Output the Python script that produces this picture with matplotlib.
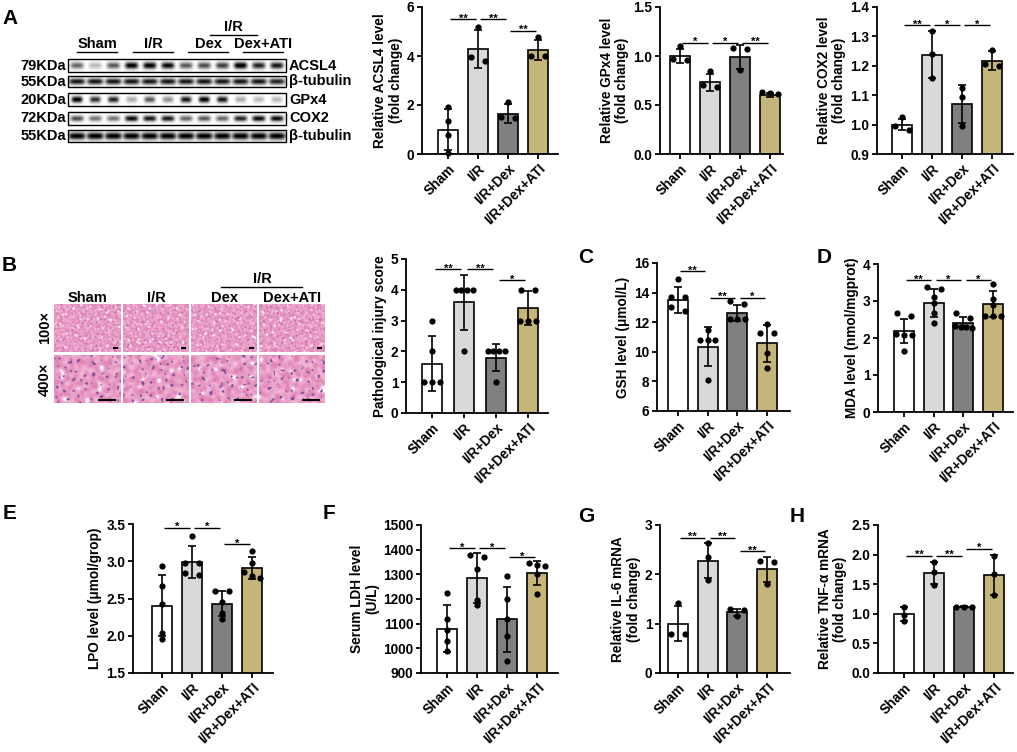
import numpy as np
import matplotlib
matplotlib.use("Agg")
import matplotlib.pyplot as plt
from matplotlib.patches import Rectangle
from matplotlib.ticker import FormatStrFormatter

plt.rcParams["font.family"] = ["Liberation Sans", "DejaVu Sans"]
plt.rcParams["font.weight"] = "bold"
plt.rcParams["axes.labelweight"] = "bold"

W, H = 1017, 752

groups = ["Sham", "I/R", "I/R+Dex", "I/R+Dex+ATI"]
bar_colors = ["#ffffff", "#d9d9d9", "#808080", "#c6b57b"]

# --- panel A: western blot quantification --------------------------------
acsl4_pts = [[1.91, 1.33, 0.79, 0.04], [5.19, 3.97, 3.79], [2.14, 1.50, 1.46], [4.78, 4.02, 4.00]]
acsl4_mean = [1.00, 4.28, 1.65, 4.25]
acsl4_sd = [0.82, 0.78, 0.39, 0.42]
acsl4_sig = [(0, 1, 5.49, "**"), (1, 2, 5.49, "**"), (2, 3, 5.03, "**")]

gpx4_pts = [[1.10, 0.97, 0.96], [0.85, 0.70, 0.68], [1.08, 1.07, 0.86], [0.63, 0.62, 0.61]]
gpx4_mean = [1.00, 0.73, 0.99, 0.60]
gpx4_sd = [0.07, 0.09, 0.12, 0.02]
gpx4_sig = [(0, 1, 1.135, "*"), (1, 2, 1.135, "*"), (2, 3, 1.135, "**")]

cox2_pts = [[1.025, 0.995, 0.98], [1.32, 1.24, 1.16], [1.123, 1.095, 0.996], [1.253, 1.205, 1.20]]
cox2_mean = [1.00, 1.238, 1.07, 1.217]
cox2_sd = [0.02, 0.08, 0.066, 0.032]
cox2_sig = [(0, 1, 1.338, "**"), (1, 2, 1.338, "*"), (2, 3, 1.338, "*")]

# --- panels B, C, D -------------------------------------------------------
path_pts = [[3, 2, 1, 1, 1], [4, 4, 4, 4, 2], [2, 2, 2, 2, 1], [4, 4, 3, 3, 3]]
path_mean = [1.6, 3.6, 1.8, 3.4]
path_sd = [0.89, 0.89, 0.45, 0.55]
path_sig = [(0, 1, 4.68, "**"), (1, 2, 4.68, "**"), (2, 3, 4.31, "*")]

gsh_pts = [[14.95, 13.7, 13.7, 13.0, 12.75], [11.5, 10.8, 10.8, 10.8, 8.1],
           [13.4, 13.25, 12.2, 12.2, 12.2], [11.88, 11.3, 11.25, 9.94, 8.88]]
gsh_mean = [13.5, 10.35, 12.6, 10.57]
gsh_sd = [0.9, 1.3, 0.55, 1.25]
gsh_sig = [(0, 1, 15.45, "**"), (1, 2, 13.65, "**"), (2, 3, 13.65, "*")]

mda_pts = [[2.67, 2.59, 2.10, 2.08, 2.08, 1.66], [3.38, 3.32, 3.12, 2.95, 2.68, 2.40],
           [2.67, 2.55, 2.32, 2.30, 2.30, 2.28], [3.45, 3.05, 2.90, 2.60, 2.60, 2.60]]
mda_mean = [2.19, 2.95, 2.40, 2.92]
mda_sd = [0.33, 0.37, 0.17, 0.36]
mda_sig = [(0, 1, 3.56, "**"), (1, 2, 3.56, "*"), (2, 3, 3.56, "*")]

# --- panels E, F, G, H ----------------------------------------------------
lpo_pts = [[2.93, 2.67, 2.43, 2.04, 1.96], [3.34, 2.98, 2.97, 2.84, 2.82],
           [2.60, 2.60, 2.45, 2.30, 2.22], [3.14, 2.97, 2.86, 2.80, 2.78]]
lpo_mean = [2.40, 2.99, 2.43, 2.91]
lpo_sd = [0.41, 0.21, 0.17, 0.15]
lpo_sig = [(0, 1, 3.45, "*"), (1, 2, 3.45, "*"), (2, 3, 3.23, "*")]

ldh_pts = [[1226, 1120, 1075, 1030, 990], [1378, 1372, 1320, 1195, 1175],
           [1292, 1200, 1120, 1050, 950], [1345, 1338, 1332, 1300, 1222]]
ldh_mean = [1080, 1285, 1117, 1305]
ldh_sd = [95, 100, 133, 48]
ldh_sig = [(0, 1, 1405, "*"), (1, 2, 1405, "*"), (2, 3, 1369, "*")]

il6_pts = [[1.42, 0.80, 0.80], [2.64, 2.36, 1.89], [1.30, 1.27, 1.15], [2.27, 2.26, 1.81]]
il6_mean = [1.00, 2.28, 1.23, 2.10]
il6_sd = [0.36, 0.36, 0.07, 0.26]
il6_sig = [(0, 1, 2.74, "**"), (1, 2, 2.74, "**"), (2, 3, 2.47, "**")]

tnf_pts = [[1.12, 0.98, 0.88], [1.87, 1.70, 1.49], [1.12, 1.12, 1.12], [1.98, 1.67, 1.31]]
tnf_mean = [0.99, 1.69, 1.12, 1.65]
tnf_sd = [0.12, 0.19, 0.005, 0.34]
tnf_sig = [(0, 1, 1.98, "**"), (1, 2, 1.98, "**"), (2, 3, 2.10, "*")]

# --- blot band darkness per lane (3 lanes per group) -----------------------
acsl4_bands = [0.55, 0.25, 0.60, 0.95, 0.95, 0.90, 0.60, 0.65, 0.70, 1.00, 0.80, 0.85]
tubulin1_bands = [0.85, 0.85, 0.85, 0.85, 0.85, 0.85, 0.85, 0.85, 0.85, 0.85, 0.85, 0.80]
gpx4_bands = [0.95, 0.75, 0.80, 0.30, 0.60, 0.40, 0.85, 0.95, 0.85, 0.30, 0.25, 0.25]
cox2_bands = [0.65, 0.50, 0.50, 0.90, 0.85, 0.85, 0.55, 0.60, 0.55, 0.80, 0.90, 0.90]
tubulin2_bands = [0.95, 0.95, 0.95, 0.95, 0.95, 0.95, 0.95, 0.95, 0.95, 0.95, 0.95, 0.95]

FS = 9.8      # tick / axis label size
FS_IMG = 10.5  # labels around blot and histology


def px_rect(x0, x1, ytop, ybot):
    return [x0 / W, 1 - ybot / H, (x1 - x0) / W, (ybot - ytop) / H]


def spread(vals, ppu, sp, thresh=4.5):
    """Side-by-side offsets for points that would overlap (GraphPad style)."""
    vals = np.asarray(vals, float)
    order = np.argsort(-vals, kind="stable")
    clusters = [[order[0]]]
    for a, b in zip(order[:-1], order[1:]):
        if (vals[a] - vals[b]) * ppu < thresh:
            clusters[-1].append(b)
        else:
            clusters.append([b])
    offs = np.zeros(len(vals))
    for c in clusters:
        n = len(c)
        if n < 2:
            continue
        step = (14 + (n - 2) * 1.5) / (n - 1) / sp
        for k, idx in enumerate(c):
            offs[idx] = (k - (n - 1) / 2) * step
    return offs


def bar_panel(fig, box, c0, c3, ylim, yticks, fmt, ylabel, pts, mean, sd, sig):
    x0, x1, ytop, ybot = box
    ax = fig.add_axes(px_rect(*box))
    sp = (c3 - c0) / 3
    xs = np.arange(4)
    ax.set_xlim((x0 - c0) / sp, 3 + (x1 - c3) / sp)
    ax.set_ylim(*ylim)
    ppu = (ybot - ytop) / (ylim[1] - ylim[0])

    ax.bar(xs, mean, width=20 / sp, color=bar_colors, edgecolor="black",
           linewidth=1.2, zorder=2)
    ax.errorbar(xs, mean, yerr=sd, fmt="none", ecolor="black", elinewidth=1.2,
                capsize=3.2, capthick=1.2, zorder=3)
    for i, vals in enumerate(pts):
        ax.plot(i + spread(vals, ppu, sp), vals, "o", color="black", ms=4.5,
                mew=0, zorder=4, clip_on=False)
    for i, j, y, star in sig:
        ax.plot([i + 0.08, j - 0.08], [y, y], color="black", lw=1.0,
                clip_on=False, solid_capstyle="butt")
        ax.annotate(star, xy=((i + j) / 2, y), xytext=(0, -1.8),
                    textcoords="offset points", ha="center", va="baseline",
                    fontsize=8, annotation_clip=False)

    for side in ("top", "right"):
        ax.spines[side].set_visible(False)
    for side in ("left", "bottom"):
        ax.spines[side].set_linewidth(1.3)
    ax.set_xticks(xs)
    ax.set_xticklabels(groups, rotation=45, ha="right", rotation_mode="anchor")
    ax.set_yticks(yticks)
    ax.yaxis.set_major_formatter(FormatStrFormatter(fmt))
    ax.tick_params(axis="both", length=3.5, width=1.3, labelsize=FS, pad=2)
    ax.set_ylabel(ylabel, fontsize=FS, labelpad=3, linespacing=1.1)
    ax.patch.set_visible(False)
    return ax


def blot_strip(levels, width_frac, height_frac):
    nx, ny = 12 * 24, 40
    u = (np.arange(nx) + 0.5) / nx * 12
    lane = np.floor(u).astype(int)
    frac = u % 1
    v = (np.arange(ny) + 0.5) / ny
    prof_x = np.exp(-((frac - 0.5) / width_frac) ** 4)
    prof_y = np.exp(-((v - 0.5) / height_frac) ** 2)
    return np.clip(np.outer(prof_y, prof_x * np.asarray(levels)[lane]) * 1.1, 0, 1)


def tissue(h, w, scale, phase, hi_mag):
    """Deterministic sine-sum texture imitating an H&E stained section."""
    yy, xx = np.mgrid[0:h, 0:w].astype(float)
    f = np.zeros((h, w))
    g = np.zeros((h, w))
    for k in range(1, 21):
        ang = k * 2.39996 + phase
        fr = scale * (0.5 + 0.075 * k)
        f += np.sin(fr * (xx * np.cos(ang) + yy * np.sin(ang)) + k * 1.37 + phase * 3)
        ang2 = k * 1.913 + phase * 2
        fr2 = scale * (1.1 + 0.11 * k)
        g += np.sin(fr2 * (xx * np.cos(ang2) + yy * np.sin(ang2)) + k * 0.71 + phase)
    pink = np.array([0.88, 0.52, 0.71])
    light = np.array([0.95, 0.72, 0.85])
    purple = np.array([0.47, 0.30, 0.60])
    lo, hi = np.quantile(f, [0.05, 0.95])
    t = np.clip((f - lo) / (hi - lo), 0, 1)[..., None]
    img = pink * (1 - t) + light * t
    white = f > np.quantile(f, 0.975 if hi_mag else 0.965)
    img[white] = [0.99, 0.97, 0.99]
    nuc = g < np.quantile(g, 0.06 if hi_mag else 0.03)
    img[nuc] = purple
    return img


fig = plt.figure(figsize=(W / 100, H / 100), dpi=100)

deco = fig.add_axes([0, 0, 1, 1])
deco.set_xlim(0, W)
deco.set_ylim(H, 0)
deco.axis("off")

# panel letters
for letter, lx, ly in [("A", 2, 9), ("B", 2, 256), ("C", 578, 248), ("D", 817, 248),
                       ("E", 3, 504), ("F", 323, 504), ("G", 578, 507), ("H", 790, 507)]:
    deco.text(lx, ly, letter, fontsize=15, fontweight="bold", ha="left", va="top")

# ---- western blot ----
blot_x0, blot_x1 = 68, 286
blot_rows = [("79KDa", "ACSL4", 59, 72, acsl4_bands, 0.36, 0.25),
             ("55KDa", "β-tubulin", 76, 87, tubulin1_bands, 0.45, 0.28),
             ("20KDa", "GPx4", 93, 106, gpx4_bands, 0.30, 0.24),
             ("72KDa", "COX2", 112, 125, cox2_bands, 0.36, 0.22),
             ("55KDa", "β-tubulin", 130, 142, tubulin2_bands, 0.48, 0.30)]
for kda, prot, y0, y1, bands, wf, hf in blot_rows:
    deco.imshow(blot_strip(bands, wf, hf), cmap="gray_r", vmin=0, vmax=1,
                extent=(blot_x0, blot_x1, y1, y0), aspect="auto",
                interpolation="bilinear", zorder=1)
    deco.add_patch(Rectangle((blot_x0, y0), blot_x1 - blot_x0, y1 - y0,
                             fill=False, edgecolor="black", lw=1.0, zorder=2))
    deco.text(66, (y0 + y1) / 2, kda, fontsize=FS_IMG, ha="right", va="center")
    deco.text(289, (y0 + y1) / 2, prot, fontsize=FS_IMG, ha="left", va="center")

for name, xa, xb in [("Sham", 77, 117), ("I/R", 133, 173), ("Dex", 188, 228),
                     ("Dex+ATI", 243, 283)]:
    deco.text((xa + xb) / 2, 48, name, fontsize=FS_IMG, ha="center", va="baseline")
    deco.plot([xa, xb], [52, 52], color="black", lw=1.0)
deco.text(233, 31, "I/R", fontsize=FS_IMG, ha="center", va="baseline")
deco.plot([210, 257], [34.5, 34.5], color="black", lw=1.0)

# ---- histology ----
tile_cols = [(54, 121), (123, 189), (191, 257), (259, 325)]
tile_rows = [(304, 352), (355, 403)]
for r, (ty0, ty1) in enumerate(tile_rows):
    for c, (tx0, tx1) in enumerate(tile_cols):
        hi = r == 1
        img = tissue(3 * (ty1 - ty0), 3 * (tx1 - tx0), 0.16 if hi else 0.34,
                     0.7 * c + 2.1 * r, hi)
        deco.imshow(img, extent=(tx0, tx1, ty1, ty0), aspect="auto",
                    interpolation="bilinear", zorder=1)
        if hi:
            deco.plot([tx1 - 22, tx1 - 6], [ty1 - 3, ty1 - 3], color="black", lw=1.5)
        else:
            deco.plot([tx1 - 7, tx1 - 4], [ty1 - 4, ty1 - 4], color="black", lw=1.5)
for name, (tx0, tx1) in zip(["Sham", "I/R", "Dex", "Dex+ATI"], tile_cols):
    deco.text((tx0 + tx1) / 2, 302, name, fontsize=FS_IMG, ha="center", va="baseline")
deco.text(262, 283, "I/R", fontsize=FS_IMG, ha="center", va="baseline")
deco.plot([221, 302], [287, 287], color="black", lw=1.0)
deco.text(45, 328, "100×", fontsize=FS_IMG, rotation=90, ha="center", va="center")
deco.text(45, 379, "400×", fontsize=FS_IMG, rotation=90, ha="center", va="center")
deco.set_xlim(0, W)
deco.set_ylim(H, 0)

# ---- bar charts ----
bar_panel(fig, (422, 558, 7, 154), 448, 538, (0, 6), [0, 2, 4, 6], "%d",
          "Relative ACSL4 level\n(fold change)", acsl4_pts, acsl4_mean, acsl4_sd, acsl4_sig)
bar_panel(fig, (660, 783, 7, 154), 680, 770, (0, 1.5), [0, 0.5, 1.0, 1.5], "%.1f",
          "Relative GPx4 level\n(fold change)", gpx4_pts, gpx4_mean, gpx4_sd, gpx4_sig)
bar_panel(fig, (877, 1013, 7, 154), 902, 992, (0.9, 1.4), [0.9, 1.0, 1.1, 1.2, 1.3, 1.4], "%.1f",
          "Relative COX2 level\n(fold change)", cox2_pts, cox2_mean, cox2_sd, cox2_sig)

bar_panel(fig, (406, 548, 259, 413), 432, 528, (0, 5), [0, 1, 2, 3, 4, 5], "%d",
          "Pathological injury score", path_pts, path_mean, path_sd, path_sig)
bar_panel(fig, (657, 790, 263, 411), 678, 767, (6, 16), [6, 8, 10, 12, 14, 16], "%d",
          "GSH level (μmol/L)", gsh_pts, gsh_mean, gsh_sd, gsh_sig)
bar_panel(fig, (878, 1013, 264, 412), 904, 993, (0, 4), [0, 1, 2, 3, 4], "%d",
          "MDA level (nmol/mgprot)", mda_pts, mda_mean, mda_sd, mda_sig)

bar_panel(fig, (133, 273, 524, 673), 162, 252, (1.5, 3.5), [1.5, 2.0, 2.5, 3.0, 3.5], "%.1f",
          "LPO level (μmol/grop)", lpo_pts, lpo_mean, lpo_sd, lpo_sig)
bar_panel(fig, (421, 558, 525, 673), 447, 537, (900, 1500), list(range(900, 1501, 100)), "%d",
          "Serum LDH level\n(U/L)", ldh_pts, ldh_mean, ldh_sd, ldh_sig)
bar_panel(fig, (660, 790, 525, 673), 678, 767, (0, 3), [0, 1, 2, 3], "%d",
          "Relative IL-6 mRNA\n(fold change)", il6_pts, il6_mean, il6_sd, il6_sig)
bar_panel(fig, (878, 1013, 525, 673), 904, 994, (0, 2.5), [0, 0.5, 1.0, 1.5, 2.0, 2.5], "%.1f",
          "Relative TNF-α mRNA\n(fold change)", tnf_pts, tnf_mean, tnf_sd, tnf_sig)

fig.savefig("out.png", dpi=100)
plt.close(fig)
